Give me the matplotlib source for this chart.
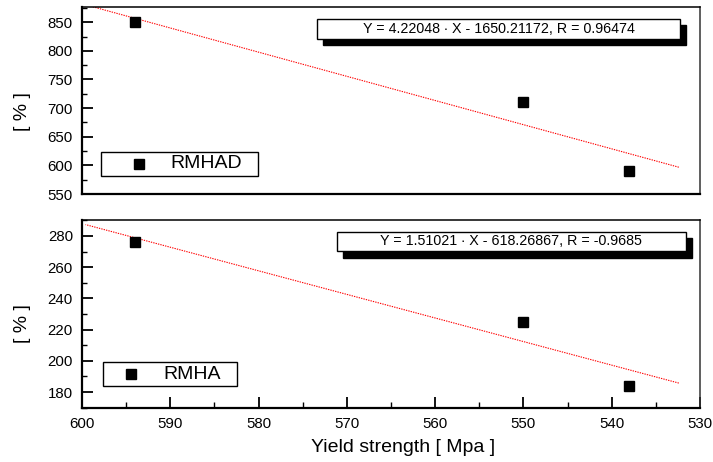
import matplotlib
matplotlib.use("Agg")
import matplotlib.pyplot as plt
from matplotlib.patches import Rectangle
from matplotlib.ticker import MultipleLocator
import numpy as np

plt.rcParams['font.family'] = ['Liberation Sans', 'DejaVu Sans']

# ---- data ----
yield_strength = [594, 550, 538]
rmhad = [850, 710, 591]
rmha = [276, 225, 184]

fit_top = {"slope": 4.22048, "intercept": -1650.21172}
fit_bot = {"slope": 1.51021, "intercept": -618.26867}
eq_top = "Y = 4.22048 \u2219 X - 1650.21172, R = 0.96474"
eq_bot = "Y = 1.51021 \u2219 X - 618.26867, R = -0.9685"
series_names = ["RMHAD", "RMHA"]

x_ticks = [600, 590, 580, 570, 560, 550, 540, 530]
top_ylim = (550, 876)
bot_ylim = (170, 290)

W, H = 713, 462
fig = plt.figure(figsize=(W / 100, H / 100), dpi=100)

def ax_rect(l, t, r, b):
    return [l / W, 1 - b / H, (r - l) / W, (b - t) / H]

ax1 = fig.add_axes(ax_rect(82, 7.3, 700, 194))
ax2 = fig.add_axes(ax_rect(82, 220.3, 700, 407.7), sharex=ax1)

xs = np.array(yield_strength, dtype=float)
span = xs.max() - xs.min()
xfit = np.array([xs.min() - 0.1 * span, xs.max() + 0.1 * span])

TICK_FS = 10.8
EQ_FS = 10.3
LEG_FS = 14
LAB_FS = 14

def style(ax, ymaj, ymin, name, ys, fit, eq, leg, eqbox, shadow_off):
    ax.plot(xfit, fit["slope"] * xfit + fit["intercept"], color='red',
            lw=0.8, ls=(0, (1.2, 1.0)), zorder=2)
    ax.plot(yield_strength, ys, 's', color='black', ms=7, zorder=3)
    ax.yaxis.set_major_locator(MultipleLocator(ymaj))
    ax.yaxis.set_minor_locator(MultipleLocator(ymin))
    ax.tick_params(axis='y', which='major', direction='in', length=8, width=1.3,
                   labelsize=TICK_FS, pad=6.5, right=False)
    ax.tick_params(axis='y', which='minor', direction='in', length=3.5, width=1.0,
                   right=False)
    for s in ['left', 'bottom']:
        ax.spines[s].set_linewidth(1.6)
    for s in ['top', 'right']:
        ax.spines[s].set_linewidth(1.1)
    ax.spines['right'].set_color('#333333')
    ax.set_ylabel("[ % ]", fontsize=LAB_FS)
    # equation box with shadow
    l, b, r, t = eqbox
    dx, dy = shadow_off
    ax.add_patch(Rectangle((l + dx, b - dy), r - l, t - b, transform=ax.transAxes,
                           facecolor='black', edgecolor='black', zorder=4, clip_on=False))
    ax.add_patch(Rectangle((l, b), r - l, t - b, transform=ax.transAxes,
                           facecolor='white', edgecolor='black', lw=1.0, zorder=5, clip_on=False))
    ax.text((l + r) / 2, (b + t) / 2, eq, transform=ax.transAxes, ha='center',
            va='center', fontsize=EQ_FS, zorder=6)
    # legend box
    ll, lb, lr, lt, mx, my, tx = leg
    ax.add_patch(Rectangle((ll, lb), lr - ll, lt - lb, transform=ax.transAxes,
                           facecolor='white', edgecolor='black', lw=1.0, zorder=5))
    ax.plot([mx], [my], 's', color='black', ms=6.5, transform=ax.transAxes, zorder=6)
    ax.text(tx, my, name, transform=ax.transAxes, ha='left', va='center',
            fontsize=LEG_FS, zorder=6)

style(ax1, 50, 25, series_names[0], rmhad, fit_top, eq_top,
      (0.030, 0.0964, 0.284, 0.2266, 0.092, 0.161, 0.1435),
      (0.380, 0.830, 0.968, 0.936), (0.0097, 0.032))
style(ax2, 20, 10, series_names[1], rmha, fit_bot, eq_bot,
      (0.034, 0.1174, 0.250, 0.2455, 0.080, 0.178, 0.1316),
      (0.412, 0.836, 0.977, 0.939), (0.0108, 0.036))

ax1.set_ylim(*top_ylim)
ax2.set_ylim(*bot_ylim)
ax2.set_xlim(600, 530)
ax2.set_xticks(x_ticks)
ax2.xaxis.set_minor_locator(MultipleLocator(5))
ax2.tick_params(axis='x', which='major', direction='in', length=8, width=1.3,
                labelsize=TICK_FS, pad=7, top=False)
ax2.tick_params(axis='x', which='minor', direction='in', length=4, width=1.0, top=False)
ax1.tick_params(axis='x', which='both', bottom=False, top=False, labelbottom=False)

ax2.set_xlabel("Yield strength [ Mpa ]", fontsize=LAB_FS)
ax2.xaxis.label.set_va('center')
ax2.xaxis.set_label_coords((403 - 82) / 618, -(448 - 407.7) / 187.4)
for ax, yc in [(ax1, 0.439), (ax2, 0.447)]:
    ax.yaxis.label.set_va('center')
    ax.yaxis.set_label_coords((23 - 82) / 618, yc)

fig.savefig("out.png", dpi=100)
